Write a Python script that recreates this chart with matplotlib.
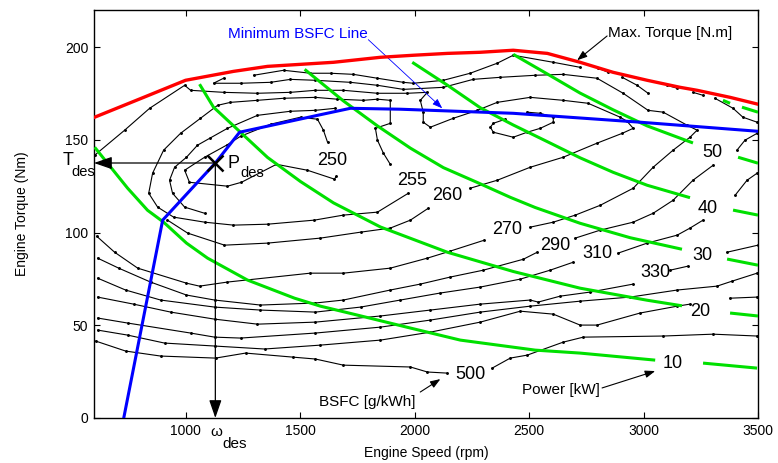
import matplotlib
matplotlib.use('Agg')
import matplotlib.pyplot as plt

plt.rcParams['font.family'] = ['Liberation Sans', 'DejaVu Sans']

# ---- data (rpm, Nm) ----
max_torque_rpm = [603, 817, 1000, 1209, 1358, 1646, 1851, 1995, 2143, 2287, 2431, 2580, 2723, 2867, 3016, 3160, 3234, 3378, 3500]
max_torque_nm = [162.2, 172.9, 182.1, 186.9, 189.6, 191.8, 194.5, 195.6, 196.6, 197.2, 198.3, 196.6, 191.8, 186.4, 182.1, 178.3, 176.7, 172.9, 169.2]

min_bsfc_rpm = [730, 900, 1130, 1236, 1576, 1720, 1938, 2431, 2985, 3500]
min_bsfc_nm = [0, 106.7, 137.5, 154.1, 163.2, 167.0, 166.5, 164.3, 159.5, 154.6]

# constant power lines, split where the label sits
power_10 = [(603, 146.0), (747, 123.9), (834, 112.0), (904, 105.6), (1004, 94.3), (1096, 86.2), (1270, 74.4),
            (1476, 64.6), (1589, 60.3), (1750, 55.5), (1982, 48.5), (2200, 42.0), (2527, 36.6), (2723, 35.0), (3051, 31.2)]
power_10_end = [(3260, 29.6), (3496, 26.9)]
power_20 = [(1061, 180.0), (1122, 167.6), (1236, 154.5), (1358, 140.5), (1502, 127.5), (1646, 116.0), (1851, 103.0),
            (2143, 89.4), (2431, 79.0), (2723, 70.0), (3016, 63.5), (3168, 60.5)]
power_20_end = [(3378, 56.6), (3500, 55.0)]
power_30 = [(1520, 188.0), (1689, 171.0), (1838, 157.5), (1982, 145.5), (2126, 135.0), (2274, 127.0), (2418, 119.0),
            (2527, 113.5), (2723, 105.0), (2942, 97.2), (3168, 91.0)]
power_30_end = [(3365, 85.7), (3500, 82.4)]
power_40 = [(1990, 191.8), (2143, 179.5), (2287, 167.3), (2431, 158.0), (2580, 149.0), (2723, 140.3), (2867, 132.5),
            (3016, 125.5), (3203, 118.8)]
power_40_end = [(3391, 112.1), (3500, 109.4)]
power_50 = [(2431, 196.1), (2580, 185.5), (2723, 175.2), (2867, 166.2), (3016, 157.5), (3216, 148.3)]
power_50_end = [(3413, 140.6), (3500, 137.4)]
power_60_a = [(3347, 171.3), (3378, 169.7)]
power_60_b = [(3430, 167.6), (3500, 164.9)]

# BSFC iso lines (g/kWh)
bsfc_250 = [(1659, 130.4), (1650, 128.8), (1532, 133.6), (1397, 136.8), (1244, 127.1), (1183, 125.0), (1017, 127.1),
            (996, 133.6), (1083, 140.6), (1179, 147.1), (1240, 151.9), (1371, 158.4), (1502, 162.2), (1576, 161.1),
            (1602, 155.2), (1620, 148.7)]
bsfc_252 = [(1083, 110.4), (996, 113.7), (943, 121.2), (930, 128.2), (952, 135.2), (1004, 140.6), (1052, 147.1),
            (1105, 150.8), (1183, 156.2), (1314, 163.2), (1458, 165.4), (1567, 165.9), (1654, 167.0)]
bsfc_255 = [(1894, 136.8), (1864, 142.8), (1838, 149.8), (1829, 156.2), (1894, 158.9), (1894, 171.3), (1838, 171.9),
            (1777, 171.3), (1663, 171.9), (1567, 172.9), (1428, 172.4), (1314, 171.3), (1196, 170.2), (1140, 168.6),
            (1065, 161.6), (978, 153.5), (904, 144.4), (856, 132.0), (839, 121.2), (878, 113.7), (948, 108.3),
            (1083, 105.6), (1209, 104.0), (1358, 104.5), (1563, 106.7), (1689, 109.4), (1838, 111.0), (1973, 121.2)]
bsfc_260_a = [(2243, 123.9), (2361, 128.2), (2505, 135.2), (2649, 140.6), (2797, 148.2), (2907, 153.5), (2955, 156.2),
              (2928, 160.0), (2898, 162.2), (2758, 169.7), (2649, 171.3), (2505, 172.9), (2361, 170.2), (2274, 165.9),
              (2169, 161.6), (2069, 156.8), (2038, 159.5), (2038, 164.9), (2025, 171.3), (2056, 175.6), (1969, 175.1),
              (1838, 175.1), (1689, 176.7), (1567, 176.7), (1458, 175.6), (1314, 175.1), (1166, 175.6), (1022, 176.7),
              (996, 179.4), (843, 167.0), (734, 155.2), (603, 141.7)]
bsfc_260_b = [(2060, 113.1), (1982, 106.7), (1894, 102.4), (1764, 100.2), (1589, 97.0), (1358, 94.3), (1170, 93.2),
              (1009, 99.7), (921, 106.7)]
bsfc_265 = [(2492, 164.9), (2549, 164.3), (2606, 162.2), (2606, 159.5), (2549, 156.2), (2492, 154.1), (2431, 151.4),
            (2344, 154.1), (2331, 156.8), (2344, 158.9), (2396, 161.1)]
bsfc_270_a = [(2505, 102.9), (2606, 105.6), (2702, 109.4), (2811, 114.7), (2955, 123.9), (3042, 135.2), (3129, 144.4),
              (3203, 151.4), (3234, 155.2), (3190, 157.9), (3086, 164.9), (3020, 165.9), (2911, 175.1), (2797, 183.2),
              (2649, 185.3), (2527, 184.8), (2374, 183.7), (2256, 182.6), (2126, 178.3), (1951, 177.2), (1838, 179.4),
              (1720, 181.0), (1567, 182.1), (1458, 182.6), (1371, 181.0), (1240, 180.5), (1122, 180.5), (1166, 183.2)]
bsfc_270_b = [(2305, 95.9), (2156, 90.0), (2056, 86.2), (1894, 80.8), (1689, 78.1), (1545, 78.1), (1183, 73.3),
              (1061, 71.1), (1004, 72.7), (791, 80.8), (690, 89.4), (612, 98.0)]
bsfc_290_top = [(1297, 184.8), (1428, 187.5), (1545, 185.9), (1633, 185.9), (1733, 185.3), (1838, 183.2), (1951, 181.0),
                (1995, 180.5), (2126, 182.1), (2243, 185.9), (2361, 191.3), (2431, 195.6), (2606, 191.8), (2723, 189.1)]
bsfc_290_d1 = [(2802, 188.6), (2846, 186.4)]
bsfc_290_d2 = [(2907, 183.7), (2972, 179.4), (3020, 175.1)]
bsfc_290_d3 = [(3103, 179.4), (3147, 177.8)]
bsfc_290_d4 = [(3216, 175.6), (3260, 174.0)]
bsfc_290_d5 = [(3312, 172.4), (3391, 167.0), (3434, 162.2), (3496, 159.5)]
bsfc_290_a = [(616, 86.2), (708, 80.8), (847, 73.3), (1004, 66.3), (1127, 63.6), (1327, 60.9), (1567, 62.0),
              (1689, 63.6), (1894, 69.0), (2025, 72.2), (2156, 76.0), (2300, 79.7), (2475, 85.6), (2536, 89.4)]
bsfc_290_b = [(2702, 97.0), (2811, 101.3), (2955, 105.6), (3042, 110.4), (3129, 117.4), (3216, 128.2), (3304, 136.3)]
bsfc_290_c = [(3408, 144.4), (3443, 149.8), (3496, 153.5)]
bsfc_310_a = [(616, 75.4), (738, 69.0), (891, 63.6), (1127, 59.8), (1327, 58.2), (1567, 57.1), (1764, 59.8),
              (1938, 63.6), (2113, 67.4), (2287, 70.6), (2462, 74.9), (2592, 79.7), (2693, 84.0)]
bsfc_310_b = [(2889, 88.9), (3016, 94.3), (3147, 98.6), (3203, 102.4), (3260, 106.7)]
bsfc_310_c = [(3400, 120.1), (3452, 128.2), (3496, 132.0)]
bsfc_330_a = [(616, 65.2), (773, 61.4), (935, 57.1), (1127, 53.3), (1314, 50.6), (1567, 51.7), (1851, 55.0),
              (2069, 58.2), (2287, 61.4), (2505, 63.6), (2540, 62.5), (2636, 65.7), (2767, 67.9), (2955, 72.2)]
bsfc_330_b = [(3116, 79.7), (3195, 81.9)]
bsfc_330_c = [(3365, 89.4), (3500, 93.2)]
bsfc_350 = [(616, 53.9), (747, 51.2), (1022, 45.8), (1127, 43.6), (1240, 43.1), (1567, 45.8), (1851, 49.0),
            (2069, 52.8), (2287, 57.1), (2505, 60.3), (2723, 63.0), (2942, 65.2), (3147, 69.0), (3321, 71.1),
            (3387, 73.8), (3496, 78.1)]
bsfc_400_a = [(616, 47.4), (747, 44.7), (908, 40.4), (1127, 38.8), (1345, 37.2), (1589, 39.3), (1851, 42.0),
              (2069, 46.3), (2287, 51.7), (2462, 57.6), (2606, 56.0), (2723, 50.1), (2797, 50.1), (2985, 56.6),
              (3147, 60.3), (3203, 61.4)]
bsfc_400_b = [(3378, 64.6), (3496, 65.2)]
bsfc_500_a = [(607, 41.5), (738, 36.1), (891, 33.4), (1131, 32.3), (1262, 35.0), (1471, 32.8), (1567, 31.8),
              (1689, 28.5), (1982, 27.5), (2056, 24.8), (2143, 24.2)]
bsfc_500_b = [(2339, 26.9), (2418, 32.3), (2492, 33.9), (2649, 40.9), (2737, 43.6), (3086, 44.2), (3304, 45.2),
              (3496, 44.2)]

bsfc_label_text = ['250', '255', '260', '270', '290', '310', '330', '500']
bsfc_label_rpm = [1641, 1990, 2143, 2405, 2614, 2797, 3051, 2243]
bsfc_label_nm = [139.0, 128.2, 120.1, 101.8, 93.2, 88.9, 78.6, 23.7]

power_label_text = ['50', '40', '30', '20', '10']
power_label_rpm = [3299, 3282, 3256, 3247, 3129]
power_label_nm = [143.3, 113.1, 87.8, 57.6, 29.6]

# design point
w_des = 1130
t_des = 137.5

fig = plt.figure(figsize=(7.78, 4.63), dpi=100)
ax = fig.add_axes([0.1208, 0.0972, 0.8535, 0.8812])

bsfc_lines = [bsfc_250, bsfc_252, bsfc_255, bsfc_260_a, bsfc_260_b, bsfc_265, bsfc_270_a, bsfc_270_b,
              bsfc_290_top, bsfc_290_d1, bsfc_290_d2, bsfc_290_d3, bsfc_290_d4, bsfc_290_d5,
              bsfc_290_a, bsfc_290_b, bsfc_290_c, bsfc_310_a, bsfc_310_b, bsfc_310_c,
              bsfc_330_a, bsfc_330_b, bsfc_330_c, bsfc_350, bsfc_400_a, bsfc_400_b, bsfc_500_a, bsfc_500_b]
for seg in bsfc_lines:
    xs, ys = zip(*seg)
    ax.plot(xs, ys, color='k', lw=0.8, marker='.', ms=2.2, zorder=2)

power_lines = [power_10, power_10_end, power_20, power_20_end, power_30, power_30_end,
               power_40, power_40_end, power_50, power_50_end, power_60_a, power_60_b]
for seg in power_lines:
    xs, ys = zip(*seg)
    ax.plot(xs, ys, color='#00e000', lw=2.2, zorder=3, solid_capstyle='butt')

ax.plot(min_bsfc_rpm, min_bsfc_nm, color='#0000ff', lw=2.2, zorder=4)
ax.plot(max_torque_rpm, max_torque_nm, color='#ff0000', lw=2.4, zorder=5)

for t, x, y in zip(bsfc_label_text, bsfc_label_rpm, bsfc_label_nm):
    ax.text(x, y, t, fontsize=13, ha='center', va='center', zorder=6)
for t, x, y in zip(power_label_text, power_label_rpm, power_label_nm):
    ax.text(x, y, t, fontsize=13, ha='center', va='center', zorder=6)

# design point and its projections
ax.plot(w_des, t_des, marker='x', ms=11, mew=1.8, color='k', zorder=7)
big_head = dict(arrowstyle='-|>,head_length=1.1,head_width=0.38', color='k', lw=0.9,
                shrinkA=0, shrinkB=0, mutation_scale=10)
ax.annotate('', xy=(600, t_des), xytext=(w_des, t_des), arrowprops=big_head, zorder=6)
ax.annotate('', xy=(w_des, 0), xytext=(w_des, t_des), arrowprops=big_head, zorder=6)
ax.text(485, 139.0, 'T', fontsize=13, ha='center', va='center')
ax.text(555, 132.5, 'des', fontsize=10.5, ha='center', va='center')
ax.text(1209, 137.4, 'P', fontsize=13, ha='center', va='center')
ax.text(1292, 132.0, 'des', fontsize=10.5, ha='center', va='center')
ax.text(1135, -7.6, 'ω', fontsize=11, ha='center', va='center')
ax.text(1214, -14.0, 'des', fontsize=11, ha='center', va='center')

# callouts
small_head = dict(arrowstyle='-|>,head_length=0.6,head_width=0.22', color='k', lw=0.8,
                  shrinkA=0, shrinkB=0, mutation_scale=10)
ax.text(1489, 206.9, 'Minimum BSFC Line', fontsize=11, color='#0000ff', ha='center', va='center')
ax.annotate('', xy=(2121, 167.0), xytext=(1798, 204.0),
            arrowprops=dict(small_head, color='#0000ff', lw=0.6))
ax.text(3116, 207.4, 'Max. Torque [N.m]', fontsize=11, ha='center', va='center')
ax.annotate('', xy=(2710, 192.9), xytext=(2841, 206.0), arrowprops=small_head)
ax.text(1794, 8.6, 'BSFC [g/kWh]', fontsize=11, ha='center', va='center')
ax.annotate('', xy=(2113, 21.0), xytext=(2025, 14.0), arrowprops=small_head)
ax.text(2640, 15.1, 'Power [kW]', fontsize=11, ha='center', va='center')
ax.annotate('', xy=(3051, 25.3), xytext=(2819, 16.2), arrowprops=small_head)

ax.set_xlim(600, 3500)
ax.set_ylim(0, 220)
ax.set_xticks([1000, 1500, 2000, 2500, 3000, 3500])
ax.set_yticks([0, 50, 100, 150, 200])
ax.tick_params(direction='in', top=True, right=True, length=4, width=0.8, labelsize=10, pad=4)
for sp in ax.spines.values():
    sp.set_linewidth(1.0)
ax.set_xlabel('Engine Speed (rpm)', fontsize=10, labelpad=6)
ax.set_ylabel('Engine Torque (Nm)', fontsize=10, labelpad=26)

fig.savefig('out.png', dpi=100)
